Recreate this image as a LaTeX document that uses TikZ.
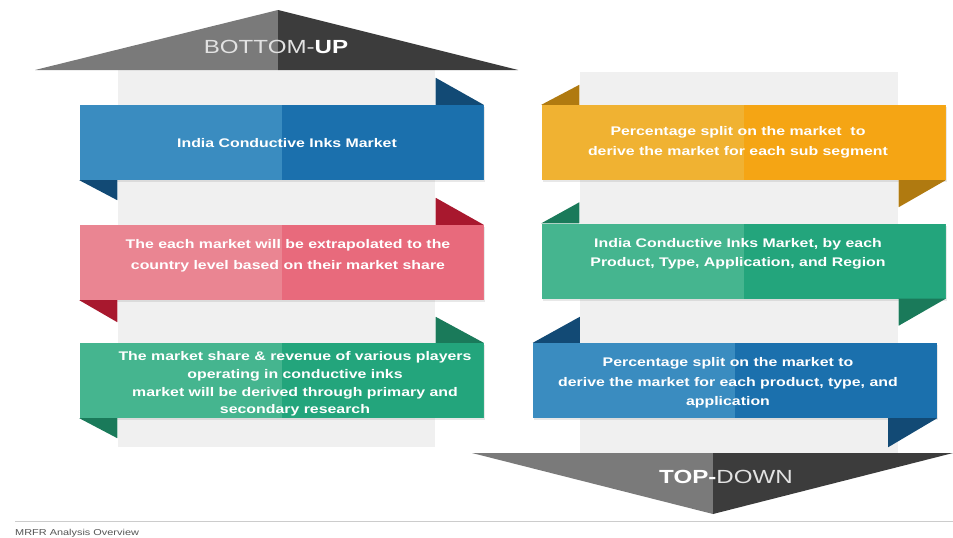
\documentclass[tikz,border=0pt]{standalone}
\usepackage{fontspec}
\setmainfont{Liberation Sans}[FakeStretch=1.27]
\usetikzlibrary{calc,shadows}
\definecolor{stripgray}{HTML}{F0F0F0}
\definecolor{arrlight}{HTML}{7A7A7A}
\definecolor{arrdark}{HTML}{3C3C3C}
\definecolor{arrtext}{HTML}{E2E2E2}
\definecolor{blueL}{HTML}{3A8CC0}
\definecolor{blueR}{HTML}{1B70AD}
\definecolor{blueF}{HTML}{124A75}
\definecolor{pinkL}{HTML}{EA8592}
\definecolor{pinkR}{HTML}{E86A7C}
\definecolor{pinkF}{HTML}{A8182E}
\definecolor{greenL}{HTML}{45B58F}
\definecolor{greenR}{HTML}{23A57C}
\definecolor{greenF}{HTML}{1A7A5A}
\definecolor{orangeL}{HTML}{F0B232}
\definecolor{orangeR}{HTML}{F5A514}
\definecolor{orangeF}{HTML}{B07A10}
\definecolor{footgray}{HTML}{555555}
\definecolor{footline}{HTML}{CCCCCC}
\tikzset{
  ribbon/.style 2 args={rectangle, inner sep=0pt, minimum width=404pt, minimum height=75pt,
    fill=#1, drop shadow={opacity=0.18, shadow xshift=1pt, shadow yshift=-2pt},
    path picture={\fill[#2] (path picture bounding box.north) rectangle (path picture bounding box.south east);}},
  boxtext/.style={text=white, align=center, inner sep=0pt,
    font=\bfseries\fontsize{12.5}{#1}\selectfont},
  boxtext/.default=19.5,
  arrowtext/.style={inner sep=0pt, font=\fontsize{19}{22}\selectfont},
}
\begin{document}
\begin{tikzpicture}[x=1pt,y=-1pt]
\useasboundingbox (0,0) rectangle (953,538);
\fill[white] (0,0) rectangle (953,538);

% background strips
\fill[stripgray] (118,70) rectangle (435,447);
\fill[stripgray] (580,72) rectangle (898,453);

% top arrow (BOTTOM-UP)
\fill[arrlight] (35,70) -- (278,10) -- (278,70) -- cycle;
\fill[arrdark] (278,10) -- (518,70) -- (278,70) -- cycle;
\node[arrowtext] (bu) at (276,47) {\textcolor{arrtext}{BOTTOM-}\textcolor{white}{\bfseries UP}};

% bottom arrow (TOP-DOWN)
\fill[arrlight] (472,453) -- (713,453) -- (713,514) -- cycle;
\fill[arrdark] (713,453) -- (953,453) -- (713,514) -- cycle;
\node[arrowtext] (td) at (726,477) {\textcolor{white}{\bfseries TOP-}\textcolor{arrtext}{DOWN}};

% left column
\node[ribbon={blueL}{blueR}] (l1) at (281.5,142.5) {};
\fill[blueF] ($(l1.north east)+(-48,0)$) -- (l1.north east) -- ($(l1.north east)+(-48,-27)$) -- cycle;
\fill[blueF] (l1.south west) -- ++(38,0) -- ++(0,20) -- cycle;
\node[boxtext] (l1t) at (287,143) {India Conductive Inks Market};

\node[ribbon={pinkL}{pinkR}] (l2) at (281.5,262.5) {};
\fill[pinkF] ($(l2.north east)+(-48,0)$) -- (l2.north east) -- ($(l2.north east)+(-48,-27)$) -- cycle;
\fill[pinkF] (l2.south west) -- ++(38,0) -- ++(0,22) -- cycle;
\node[boxtext=21] (l2t) at (288,256) {The each market will be extrapolated to the\\country level based on their market share};

\node[ribbon={greenL}{greenR}] (l3) at (281.5,380.5) {};
\fill[greenF] ($(l3.north east)+(-48,0)$) -- (l3.north east) -- ($(l3.north east)+(-48,-26)$) -- cycle;
\fill[greenF] (l3.south west) -- ++(38,0) -- ++(0,20) -- cycle;
\node[boxtext=17.7] (l3t) at (295,384) {The market share \& revenue of various players\\operating in conductive inks\\market will be derived through primary and\\secondary research};

% right column
\node[ribbon={orangeL}{orangeR}] (r1) at (743.5,142.5) {};
\fill[orangeF] (r1.north west) -- ++(38,0) -- ++(0,-20) -- cycle;
\fill[orangeF] (r1.south east) -- ++(-47,0) -- ++(0,27) -- cycle;
\node[boxtext] (r1t) at (738,142.5) {Percentage split on the market\ \ to\\derive the market for each sub segment};

\node[ribbon={greenL}{greenR}] (r2) at (743.5,261) {};
\fill[greenF] (r2.north west) -- ++(38,0) -- ++(0,-21) -- cycle;
\fill[greenF] (r2.south east) -- ++(-47,0) -- ++(0,27) -- cycle;
\node[boxtext=18.5] (r2t) at (738,254) {India Conductive Inks Market, by each\\Product, Type, Application, and Region};

\node[ribbon={blueL}{blueR}] (r3) at (735,380.5) {};
\fill[blueF] (r3.north west) -- ++(47,0) -- ++(0,-26) -- cycle;
\fill[blueF] (r3.south east) -- ++(-49,0) -- ++(0,29) -- cycle;
\node[boxtext] (r3t) at (728,383) {Percentage split on the market to\\derive the market for each product, type, and\\application};

% footer
\coordinate (fl) at (15,521);
\coordinate (fr) at (953,521);
\draw[footline, line width=0.8pt] (fl) -- (fr);
\node[anchor=west, inner sep=0pt, text=footgray, font=\fontsize{8.6}{10}\selectfont] (foot) at (15,533) {MRFR Analysis Overview};
\end{tikzpicture}
\end{document}
